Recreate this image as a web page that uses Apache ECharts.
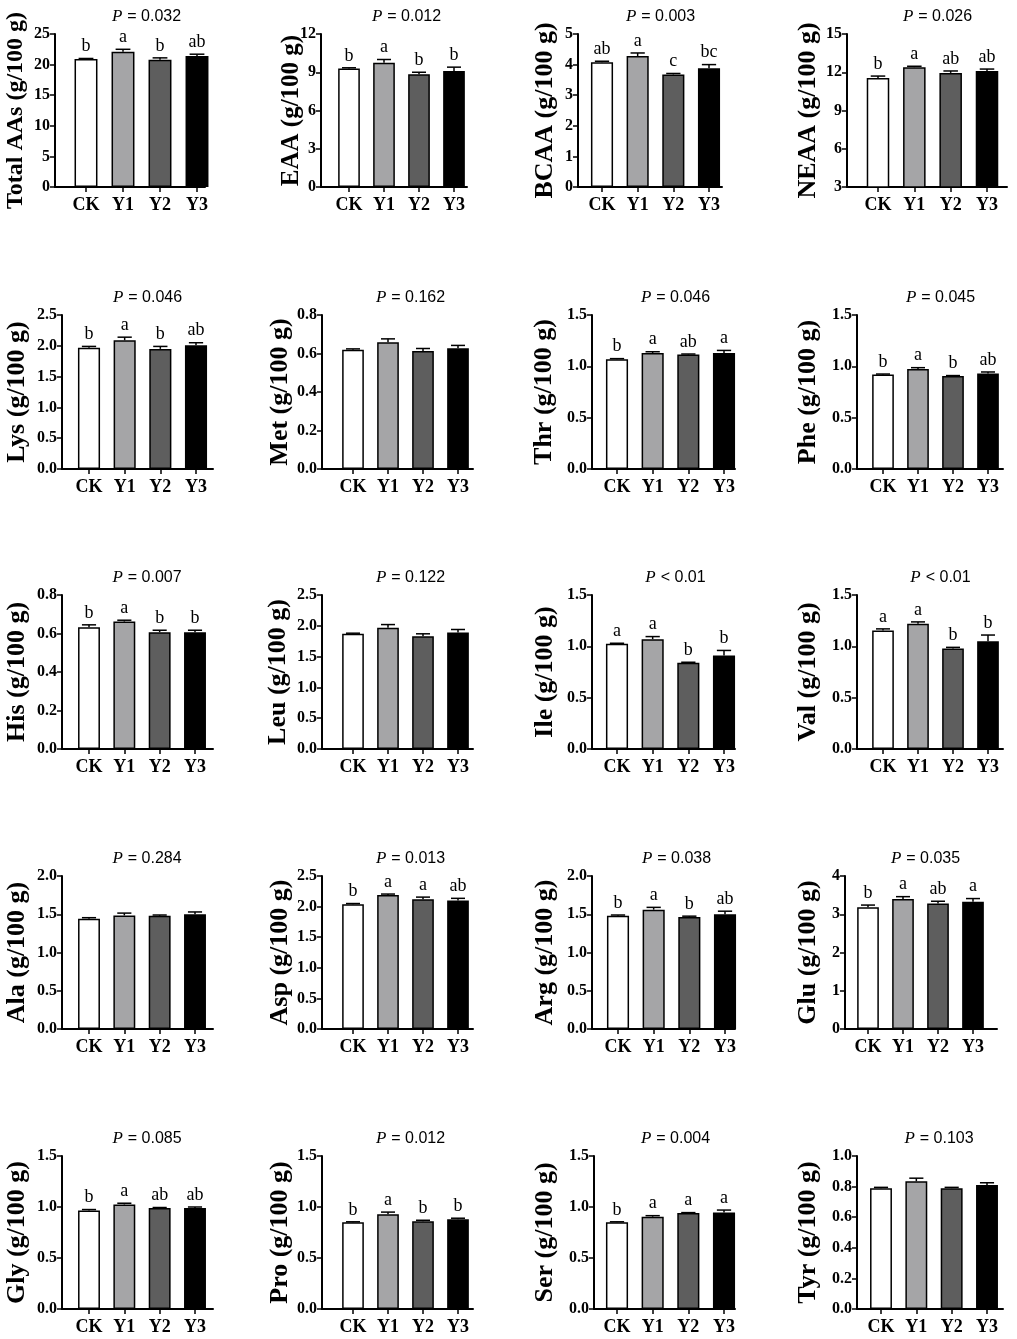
<!DOCTYPE html>
<html>
<head>
<meta charset="utf-8">
<script src="https://cdn.jsdelivr.net/npm/echarts@6/dist/echarts.min.js"></script>
<style>
  html, body { margin: 0; padding: 0; background: #fff; }
  #chart { width: 1017px; height: 1339px; }
</style>
</head>
<body>
<div id="chart"></div>
<script>
// data (g/100 g), panels left-to-right, top-to-bottom
var groups = ['CK', 'Y1', 'Y2', 'Y3'];
var aaNames = ['Total AAs', 'EAA', 'BCAA', 'NEAA', 'Lys', 'Met', 'Thr', 'Phe', 'His', 'Leu',
               'Ile', 'Val', 'Ala', 'Asp', 'Arg', 'Glu', 'Gly', 'Pro', 'Ser', 'Tyr'];
var pText = ['= 0.032', '= 0.012', '= 0.003', '= 0.026', '= 0.046', '= 0.162', '= 0.046', '= 0.045',
             '= 0.007', '= 0.122', '< 0.01', '< 0.01', '= 0.284', '= 0.013', '= 0.038', '= 0.035',
             '= 0.085', '= 0.012', '= 0.004', '= 0.103'];
var yMin  = [0, 0, 0, 3,  0, 0, 0, 0,  0, 0, 0, 0,  0, 0, 0, 0,  0, 0, 0, 0];
var yMax  = [25, 12, 5, 15,  2.5, 0.8, 1.5, 1.5,  0.8, 2.5, 1.5, 1.5,  2.0, 2.5, 2.0, 4,  1.5, 1.5, 1.5, 1.0];
var yStep = [5, 3, 1, 3,  0.5, 0.2, 0.5, 0.5,  0.2, 0.5, 0.5, 0.5,  0.5, 0.5, 0.5, 1,  0.5, 0.5, 0.5, 0.2];

var ckMean = [20.9, 9.3, 4.08, 11.55, 1.97, 0.62, 1.07, 0.92, 0.632, 1.87, 1.025, 1.155, 1.44, 2.04, 1.48, 3.18, 0.965, 0.85, 0.85, 0.79];
var y1Mean = [22.1, 9.75, 4.28, 12.4, 2.09, 0.658, 1.13, 0.975, 0.662, 1.97, 1.07, 1.22, 1.485, 2.19, 1.56, 3.4, 1.025, 0.93, 0.905, 0.835];
var y2Mean = [20.8, 8.85, 3.68, 11.95, 1.95, 0.613, 1.115, 0.905, 0.607, 1.83, 0.84, 0.98, 1.48, 2.12, 1.465, 3.28, 0.99, 0.86, 0.94, 0.79];
var y3Mean = [21.4, 9.1, 3.88, 12.1, 2.01, 0.627, 1.13, 0.93, 0.607, 1.89, 0.91, 1.05, 1.5, 2.1, 1.5, 3.33, 0.99, 0.88, 0.945, 0.81];

var ckErr = [0.1, 0.05, 0.03, 0.15, 0.02, 0.004, 0.005, 0.005, 0.013, 0.01, 0.005, 0.015, 0.015, 0.01, 0.01, 0.06, 0.01, 0.005, 0.005, 0.005];
var y1Err = [0.4, 0.25, 0.1, 0.07, 0.05, 0.018, 0.012, 0.012, 0.007, 0.05, 0.025, 0.018, 0.03, 0.015, 0.03, 0.06, 0.012, 0.02, 0.01, 0.02];
var y2Err = [0.3, 0.15, 0.03, 0.15, 0.04, 0.013, 0.005, 0.005, 0.01, 0.04, 0.005, 0.01, 0.01, 0.035, 0.01, 0.06, 0.005, 0.01, 0.005, 0.005];
var y3Err = [0.3, 0.3, 0.12, 0.15, 0.04, 0.015, 0.025, 0.015, 0.01, 0.05, 0.05, 0.06, 0.03, 0.035, 0.04, 0.08, 0.01, 0.01, 0.025, 0.015];

var ckSig = ['b', 'b', 'ab', 'b',  'b', '', 'b', 'b',  'b', '', 'a', 'a',  '', 'b', 'b', 'b',  'b', 'b', 'b', ''];
var y1Sig = ['a', 'a', 'a', 'a',  'a', '', 'a', 'a',  'a', '', 'a', 'a',  '', 'a', 'a', 'a',  'a', 'a', 'a', ''];
var y2Sig = ['b', 'b', 'c', 'ab',  'b', '', 'ab', 'b',  'b', '', 'b', 'b',  '', 'a', 'b', 'ab',  'ab', 'b', 'a', ''];
var y3Sig = ['ab', 'b', 'bc', 'ab',  'ab', '', 'a', 'ab',  'b', '', 'b', 'b',  '', 'ab', 'ab', 'a',  'ab', 'b', 'a', ''];

var axisX     = [55, 321, 578, 847,  62, 322, 592, 857,  62, 322, 592, 857,  62, 322, 592, 845,  62, 322, 594, 857];
var firstTick = [86, 349, 602, 878,  89, 353, 617, 883,  89, 353, 617, 883,  89, 353, 618, 868,  89, 353, 617, 881];
var lastTick  = [197, 454, 709, 987,  196, 458, 724, 988,  195, 458, 724, 988,  195, 458, 725, 973,  195, 458, 724, 987];
var axisEnd   = [205, 467, 722, 1007,  213, 473, 735, 1003,  213, 473, 735, 1003,  213, 473, 735, 997,  213, 473, 735, 1003];
var nameX     = [15, 291, 545, 808,  17, 280, 544, 808,  17, 278, 545, 808,  17, 280, 545, 808,  17, 280, 545, 808];
var nameSize  = [24, 25, 26, 26,  26, 26, 26, 26,  26, 26, 26, 26,  26, 26, 26, 26,  26, 26, 26, 26];
var rowTop    = [34, 315, 595, 876, 1156];
var rowBottom = [187, 469, 749, 1029, 1309];

var barColors = ['#ffffff', '#a5a5a7', '#5e5e5e', '#000000'];
var serif = '"Liberation Serif", "Times New Roman", serif';
var sans = '"Liberation Sans", Arial, sans-serif';

(function () {
  var chart = echarts.init(document.getElementById('chart'));
  var grids = [], xAxes = [], yAxes = [], series = [], titles = [];

  function errRender(p) {
    var sigs = [ckSig[p], y1Sig[p], y2Sig[p], y3Sig[p]];
    return function (params, api) {
      var i = params.dataIndex;
      var m = api.value(1), e = api.value(2);
      var base = api.coord([i, m]);
      var tip = api.coord([i, m + e]);
      var half = api.size([1, 0])[0] * 0.2;
      var kids = [
        { type: 'line', shape: { x1: base[0], y1: base[1], x2: tip[0], y2: tip[1] },
          style: { stroke: '#000', lineWidth: 1.5 } },
        { type: 'line', shape: { x1: tip[0] - half, y1: tip[1], x2: tip[0] + half, y2: tip[1] },
          style: { stroke: '#000', lineWidth: 1.5 } }
      ];
      if (sigs[i]) {
        kids.push({ type: 'text', x: tip[0], y: tip[1] - 3,
          style: { text: sigs[i], align: 'center', verticalAlign: 'bottom',
                   fontFamily: serif, fontSize: 18, fill: '#000' } });
      }
      return { type: 'group', children: kids };
    };
  }

  for (var p = 0; p < aaNames.length; p++) {
    var r = Math.floor(p / 4);
    var gTop = rowTop[r], gH = rowBottom[r] - rowTop[r];
    var band = (lastTick[p] - firstTick[p]) / 3;
    var dec = yStep[p] < 1 ? 1 : 0;

    // frame grid: axis lines, y ticks and labels
    grids.push({ left: axisX[p], top: gTop, width: axisEnd[p] - axisX[p], height: gH });
    // bar grid: category bands centred on the ticks
    grids.push({ left: firstTick[p] - band / 2, top: gTop, width: band * 4, height: gH });

    var ga = 2 * p, gb = 2 * p + 1;
    xAxes.push({
      gridIndex: ga, type: 'value', min: 0, max: 1,
      axisLine: { show: true, lineStyle: { color: '#000', width: 2 } },
      axisTick: { show: false }, axisLabel: { show: false }, splitLine: { show: false }
    });
    xAxes.push({
      gridIndex: gb, type: 'category', data: groups,
      axisLine: { show: false },
      axisTick: { show: true, interval: 0, alignWithLabel: true, length: 5,
                  lineStyle: { color: '#000', width: 1.5 } },
      axisLabel: { interval: 0, hideOverlap: false, color: '#000', fontFamily: serif,
                   fontWeight: 'bold', fontSize: 18, margin: 9 },
      splitLine: { show: false }
    });
    yAxes.push({
      gridIndex: ga, type: 'value', min: yMin[p], max: yMax[p], interval: yStep[p],
      name: aaNames[p] + ' (g/100 g)', nameLocation: 'middle', nameRotate: 90,
      nameMoveOverlap: false,
      nameGap: axisX[p] - nameX[p] - 13,
      nameTextStyle: { color: '#000', fontFamily: serif, fontWeight: 'bold', fontSize: nameSize[p] },
      axisLine: { show: true, lineStyle: { color: '#000', width: 2 } },
      axisTick: { show: true, length: 5, lineStyle: { color: '#000', width: 1.5 } },
      axisLabel: {
        color: '#000', fontFamily: serif, fontWeight: 'bold', fontSize: 16, margin: 5,
        formatter: (function (d) { return function (v) { return v.toFixed(d); }; })(dec)
      },
      splitLine: { show: false }
    });
    yAxes.push({ gridIndex: gb, type: 'value', min: yMin[p], max: yMax[p], show: false });

    var means = [ckMean[p], y1Mean[p], y2Mean[p], y3Mean[p]];
    var errs = [ckErr[p], y1Err[p], y2Err[p], y3Err[p]];

    series.push({
      type: 'bar', xAxisIndex: gb, yAxisIndex: gb, barWidth: '62%', silent: true,
      data: means.map(function (v, i) {
        return { value: v, itemStyle: { color: barColors[i], borderColor: '#000', borderWidth: 1.5 } };
      }),
      z: 2
    });
    series.push({
      type: 'custom', xAxisIndex: gb, yAxisIndex: gb, silent: true,
      renderItem: errRender(p),
      encode: { x: 0, y: 1 },
      data: means.map(function (v, i) { return [i, v, errs[i]]; }),
      z: 3
    });

    titles.push({
      left: (firstTick[p] + lastTick[p]) / 2, top: gTop - 31, textAlign: 'center',
      text: '{p|P} {v|' + pText[p] + '}',
      textStyle: {
        fontWeight: 'normal',
        rich: {
          p: { fontFamily: serif, fontStyle: 'italic', fontWeight: 'normal', fontSize: 17, color: '#000' },
          v: { fontFamily: sans, fontWeight: 'normal', fontSize: 16, color: '#000' }
        }
      }
    });
  }

  chart.setOption({
    animation: false,
    backgroundColor: '#fff',
    title: titles,
    grid: grids,
    xAxis: xAxes,
    yAxis: yAxes,
    series: series
  });
})();
</script>
</body>
</html>
